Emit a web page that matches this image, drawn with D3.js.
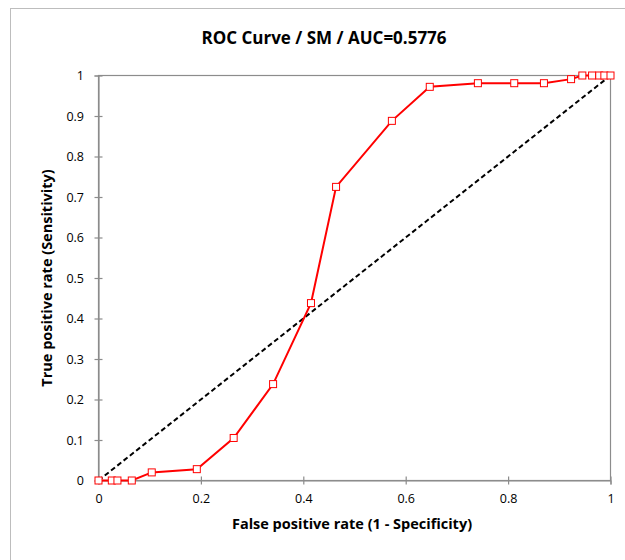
<!DOCTYPE html>
<html>
<head>
<meta charset="utf-8">
<script src="https://cdn.jsdelivr.net/npm/d3@7"></script>
<style>
  body { margin: 0; background: #fff; }
  svg text { font-family: "Open Sans", "Noto Sans", sans-serif; }
</style>
</head>
<body>
<div id="chart"></div>
<script>
// ROC points
const fpr = [0, 0.026, 0.037, 0.065, 0.104, 0.192, 0.264, 0.341, 0.415, 0.464, 0.573,
             0.647, 0.741, 0.812, 0.870, 0.923, 0.945, 0.964, 0.978, 0.988, 1.0];
const tpr = [0, 0, 0, 0, 0.020, 0.028, 0.105, 0.238, 0.438, 0.725, 0.888,
             0.972, 0.981, 0.981, 0.981, 0.991, 1, 1, 1, 1, 1];
const diagonal = [[0, 0], [1, 1]];
const xTicks = [0, 0.2, 0.4, 0.6, 0.8, 1];
const yTicks = [0, 0.1, 0.2, 0.3, 0.4, 0.5, 0.6, 0.7, 0.8, 0.9, 1];
const title = "ROC Curve / SM / AUC=0.5776";
const xLabel = "False positive rate (1 - Specificity)";
const yLabel = "True positive rate (Sensitivity)";

const width = 625, height = 560;
const margin = { top: 75.5, right: 14.5, bottom: 79.5, left: 98.5 };

const svg = d3.select("#chart").append("svg")
  .attr("width", width)
  .attr("height", height);

// outer chart border (runs off the right/bottom edge)
svg.append("rect")
  .attr("x", 10.5).attr("y", 8.5)
  .attr("width", 650).attr("height", 600)
  .attr("fill", "none")
  .attr("stroke", "#bdbdbd");

const x = d3.scaleLinear().domain([0, 1]).range([margin.left, width - margin.right]);
const y = d3.scaleLinear().domain([0, 1]).range([height - margin.bottom, margin.top]);

// plot frame
svg.append("rect")
  .attr("x", x(0)).attr("y", y(1))
  .attr("width", x(1) - x(0)).attr("height", y(0) - y(1))
  .attr("fill", "none")
  .attr("stroke", "#8c8c8c")
  .attr("stroke-width", 1.2);

// axes with ticks crossing the axis line
const xAxis = svg.append("g")
  .attr("transform", `translate(0,${y(0)})`)
  .call(d3.axisBottom(x).tickValues(xTicks).tickSize(4).tickFormat(d3.format("")));
xAxis.selectAll(".tick line").attr("y1", -4);
const yAxis = svg.append("g")
  .attr("transform", `translate(${x(0)},0)`)
  .call(d3.axisLeft(y).tickValues(yTicks).tickSize(4).tickFormat(d3.format("")));
yAxis.selectAll(".tick line").attr("x1", 4);

[xAxis, yAxis].forEach(g => {
  g.select(".domain").attr("stroke", "#8c8c8c").attr("stroke-width", 1.2);
  g.selectAll(".tick line").attr("stroke", "#8c8c8c").attr("stroke-width", 1.2);
  g.selectAll(".tick text")
    .attr("font-size", "12.5px")
    .attr("fill", "#000")
    .style("font-family", "'Open Sans', sans-serif");
});
xAxis.selectAll(".tick text").attr("dy", "1.25em");
yAxis.selectAll(".tick text").attr("dx", "-0.6em");

// random-guess diagonal
svg.append("path")
  .datum(diagonal)
  .attr("d", d3.line().x(d => x(d[0])).y(d => y(d[1])))
  .attr("fill", "none")
  .attr("stroke", "#000")
  .attr("stroke-width", 2)
  .attr("stroke-dasharray", "5,3");

// ROC curve
const points = fpr.map((v, i) => ({ x: v, y: tpr[i] }));
svg.append("path")
  .datum(points)
  .attr("d", d3.line().x(d => x(d.x)).y(d => y(d.y)))
  .attr("fill", "none")
  .attr("stroke", "#ff0000")
  .attr("stroke-width", 2);

svg.selectAll("rect.marker")
  .data(points)
  .join("rect")
  .attr("class", "marker")
  .attr("x", d => x(d.x) - 3.5)
  .attr("y", d => y(d.y) - 3.5)
  .attr("width", 7).attr("height", 7)
  .attr("fill", "#fff")
  .attr("stroke", "#ff0000")
  .attr("stroke-width", 1);

// titles
svg.append("text")
  .attr("x", 324).attr("y", 44)
  .attr("text-anchor", "middle")
  .attr("font-size", "17px")
  .attr("font-weight", "bold")
  .text(title);

svg.append("text")
  .attr("x", 352).attr("y", 529)
  .attr("text-anchor", "middle")
  .attr("font-size", "14.5px")
  .attr("font-weight", "bold")
  .text(xLabel);

svg.append("text")
  .attr("transform", `translate(52,${(y(0) + y(1)) / 2}) rotate(-90)`)
  .attr("text-anchor", "middle")
  .attr("font-size", "14.5px")
  .attr("font-weight", "bold")
  .text(yLabel);
</script>
</body>
</html>
